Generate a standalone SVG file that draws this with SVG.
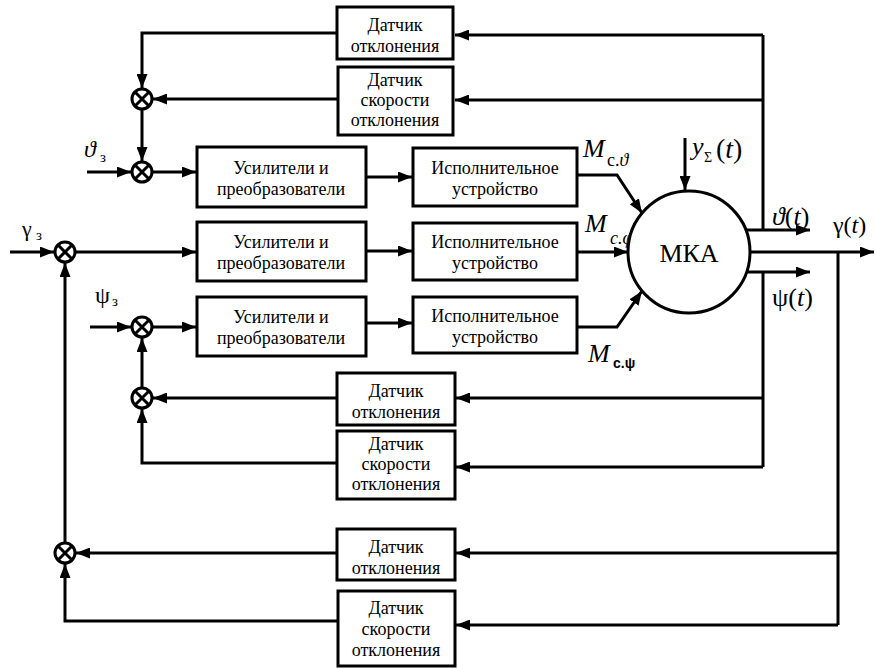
<svg xmlns="http://www.w3.org/2000/svg" width="876" height="668" viewBox="0 0 876 668">
<defs>
<marker id="ah" markerUnits="userSpaceOnUse" markerWidth="15" markerHeight="11" refX="14" refY="5.5" orient="auto">
<path d="M0,0 L14,5.5 L0,11 z" fill="#000"/>
</marker>
<g id="sum">
<circle cx="0" cy="0" r="10" fill="#fff" stroke="#000" stroke-width="3"/>
<path d="M-7,-7 L7,7 M-7,7 L7,-7" stroke="#000" stroke-width="3"/>
</g>
</defs>
<rect width="876" height="668" fill="#fff"/>

<g id="connectors" fill="none" stroke="#000" stroke-width="3">
<path d="M763,230 V35"/>
<path marker-end="url(#ah)" d="M763,35 H455"/>
<path marker-end="url(#ah)" d="M763,100 H455"/>
<path marker-end="url(#ah)" d="M337,33 H142 V88"/>
<path marker-end="url(#ah)" d="M338,99 H153"/>
<path marker-end="url(#ah)" d="M142,109 V161"/>
<path marker-end="url(#ah)" d="M87,172 H131"/>
<path marker-end="url(#ah)" d="M153,172 H196"/>
<path marker-end="url(#ah)" d="M10,252 H54"/>
<path marker-end="url(#ah)" d="M76,252 H196"/>
<path marker-end="url(#ah)" d="M90,327 H131"/>
<path marker-end="url(#ah)" d="M153,327 H196"/>
<path marker-end="url(#ah)" d="M366,177 H412"/>
<path marker-end="url(#ah)" d="M366,251 H412"/>
<path marker-end="url(#ah)" d="M366,323 H412"/>
<path marker-end="url(#ah)" d="M577,175 H617 L642,213"/>
<path marker-end="url(#ah)" d="M577,252 H628"/>
<path marker-end="url(#ah)" d="M577,327 H617 L642,291"/>
<path marker-end="url(#ah)" d="M685,138 V190"/>
<path marker-end="url(#ah)" d="M746,230 H810"/>
<path marker-end="url(#ah)" d="M750,252 H874"/>
<path marker-end="url(#ah)" d="M747,272 H810"/>
<path d="M763,272 V467"/>
<path marker-end="url(#ah)" d="M763,398 H456"/>
<path marker-end="url(#ah)" d="M763,467 H456"/>
<path marker-end="url(#ah)" d="M337,398 H153"/>
<path marker-end="url(#ah)" d="M337,463 H142 V409"/>
<path marker-end="url(#ah)" d="M142,388 V338"/>
<path d="M838,252 V625"/>
<path marker-end="url(#ah)" d="M838,553 H456"/>
<path marker-end="url(#ah)" d="M838,625 H456"/>
<path marker-end="url(#ah)" d="M337,553 H76"/>
<path marker-end="url(#ah)" d="M338,621 H65 V564"/>
<path marker-end="url(#ah)" d="M65,542 V263"/>
</g>

<g id="sum1"><use href="#sum" x="142" y="99"/></g>
<g id="sum2"><use href="#sum" x="142" y="172"/></g>
<g id="sum3"><use href="#sum" x="65" y="252"/></g>
<g id="sum4"><use href="#sum" x="142" y="327"/></g>
<g id="sum5"><use href="#sum" x="142" y="398"/></g>
<g id="sum6"><use href="#sum" x="65" y="553"/></g>

<g id="blocks" text-anchor="middle" font-size="18" font-family="Liberation Serif">
<g id="theta-pos"><rect x="337" y="7" width="116" height="52" fill="#fff" stroke="#000" stroke-width="3"/><text style="font-family:'Liberation Serif',serif" x="395" y="31">Датчик</text><text style="font-family:'Liberation Serif',serif" x="395" y="52">отклонения</text></g>
<g id="theta-rate"><rect x="338" y="67" width="115" height="68" fill="#fff" stroke="#000" stroke-width="3"/><text style="font-family:'Liberation Serif',serif" x="395" y="86">Датчик</text><text style="font-family:'Liberation Serif',serif" x="395" y="106">скорости</text><text style="font-family:'Liberation Serif',serif" x="395" y="126">отклонения</text></g>

<g id="amp1"><rect x="197" y="147" width="169" height="60" fill="#fff" stroke="#000" stroke-width="3"/><text style="font-family:'Liberation Serif',serif" x="281" y="174">Усилители и</text><text style="font-family:'Liberation Serif',serif" x="281" y="195">преобразователи</text></g>
<g id="amp2"><rect x="197" y="222" width="169" height="59" fill="#fff" stroke="#000" stroke-width="3"/><text style="font-family:'Liberation Serif',serif" x="281" y="248">Усилители и</text><text style="font-family:'Liberation Serif',serif" x="281" y="269">преобразователи</text></g>
<g id="amp3"><rect x="197" y="297" width="169" height="59" fill="#fff" stroke="#000" stroke-width="3"/><text style="font-family:'Liberation Serif',serif" x="281" y="323">Усилители и</text><text style="font-family:'Liberation Serif',serif" x="281" y="344">преобразователи</text></g>

<g id="act1"><rect x="413" y="148" width="164" height="58" fill="#fff" stroke="#000" stroke-width="3"/><text style="font-family:'Liberation Serif',serif" x="495" y="174">Исполнительное</text><text style="font-family:'Liberation Serif',serif" x="495" y="195">устройство</text></g>
<g id="act2"><rect x="413" y="223" width="164" height="57" fill="#fff" stroke="#000" stroke-width="3"/><text style="font-family:'Liberation Serif',serif" x="495" y="248">Исполнительное</text><text style="font-family:'Liberation Serif',serif" x="495" y="269">устройство</text></g>
<g id="act3"><rect x="413" y="297" width="164" height="56" fill="#fff" stroke="#000" stroke-width="3"/><text style="font-family:'Liberation Serif',serif" x="495" y="322">Исполнительное</text><text style="font-family:'Liberation Serif',serif" x="495" y="343">устройство</text></g>

<g id="psi-pos"><rect x="337" y="373" width="118" height="52" fill="#fff" stroke="#000" stroke-width="3"/><text style="font-family:'Liberation Serif',serif" x="396" y="397">Датчик</text><text style="font-family:'Liberation Serif',serif" x="396" y="418">отклонения</text></g>
<g id="psi-rate"><rect x="337" y="431" width="118" height="68" fill="#fff" stroke="#000" stroke-width="3"/><text style="font-family:'Liberation Serif',serif" x="396" y="450">Датчик</text><text style="font-family:'Liberation Serif',serif" x="396" y="470">скорости</text><text style="font-family:'Liberation Serif',serif" x="396" y="490">отклонения</text></g>

<g id="gamma-pos"><rect x="337" y="529" width="118" height="51" fill="#fff" stroke="#000" stroke-width="3"/><text style="font-family:'Liberation Serif',serif" x="396" y="553">Датчик</text><text style="font-family:'Liberation Serif',serif" x="396" y="574">отклонения</text></g>
<g id="gamma-rate"><rect x="338" y="591" width="117" height="75" fill="#fff" stroke="#000" stroke-width="3"/><text style="font-family:'Liberation Serif',serif" x="396" y="614">Датчик</text><text style="font-family:'Liberation Serif',serif" x="396" y="635">скорости</text><text style="font-family:'Liberation Serif',serif" x="396" y="656">отклонения</text></g>
</g>

<g id="labels" font-family="Liberation Serif">
<text style="font-family:'Liberation Serif',serif" x="583" y="157" font-size="26" font-style="italic">M</text>
<text style="font-family:'Liberation Serif',serif" x="607" y="166" font-size="18">c.<tspan font-style="italic">ϑ</tspan></text>
<text style="font-family:'Liberation Serif',serif" x="585" y="232" font-size="26" font-style="italic">M</text>
<text style="font-family:'Liberation Serif',serif" x="610" y="244" font-size="18" font-style="italic">c.φ</text>
<text style="font-family:'Liberation Serif',serif" x="588" y="362" font-size="26" font-style="italic">M</text>
<text style="font-family:'Liberation Sans',sans-serif" x="613" y="368" font-size="14" font-weight="bold">c.ψ</text>
<text style="font-family:'Liberation Serif',serif" x="692" y="155" font-size="26" font-style="italic">y</text>
<text style="font-family:'Liberation Serif',serif" x="704" y="162" font-size="14">Σ</text>
<text style="font-family:'Liberation Serif',serif" x="716" y="158" font-size="28">(<tspan font-style="italic">t</tspan>)</text>
<text style="font-family:'Liberation Serif',serif" x="772" y="225" font-size="26"><tspan font-style="italic">ϑ</tspan>(<tspan font-style="italic">t</tspan>)</text>
<text style="font-family:'Liberation Serif',serif" x="833" y="233" font-size="24">γ(<tspan font-style="italic">t</tspan>)</text>
<text style="font-family:'Liberation Serif',serif" x="772" y="306" font-size="26">ψ(<tspan font-style="italic">t</tspan>)</text>
<text style="font-family:'Liberation Serif',serif" x="84" y="157" font-size="24" font-style="italic">ϑ</text>
<text style="font-family:'Liberation Serif',serif" x="100" y="162" font-size="15">з</text>
<text style="font-family:'Liberation Serif',serif" x="22" y="236" font-size="22">γ</text>
<text style="font-family:'Liberation Serif',serif" x="36" y="240" font-size="15">з</text>
<text style="font-family:'Liberation Serif',serif" x="95" y="303" font-size="24">ψ</text>
<text style="font-family:'Liberation Serif',serif" x="112" y="306" font-size="15">з</text>
</g>

<g id="mka"><circle cx="689" cy="252" r="61" fill="#fff" stroke="#000" stroke-width="3"/><text style="font-family:'Liberation Serif',serif" x="689" y="262" font-size="26" text-anchor="middle">МКА</text></g>
</svg>
